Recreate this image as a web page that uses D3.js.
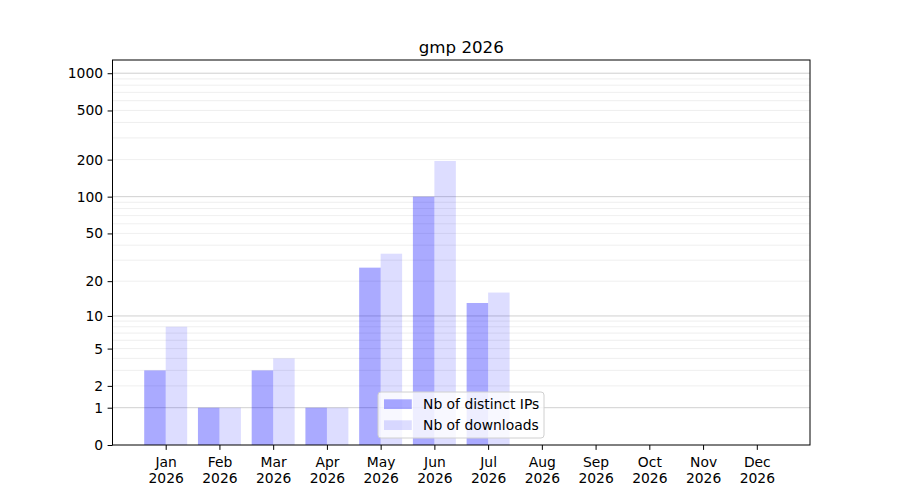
<!DOCTYPE html>
<html>
<head>
<meta charset="utf-8">
<script src="https://cdn.jsdelivr.net/npm/d3@7"></script>
<style>
  body { margin: 0; background: #fff; }
  text { font-family: "DejaVu Sans", sans-serif; }
</style>
</head>
<body>
<div id="chart"></div>
<script>
const months = ["Jan", "Feb", "Mar", "Apr", "May", "Jun", "Jul", "Aug", "Sep", "Oct", "Nov", "Dec"];
const year = "2026";
const distinctIPs = [3, 1, 3, 1, 26, 100, 13, 0, 0, 0, 0, 0];
const downloads = [8, 1, 4, 1, 34, 195, 16, 0, 0, 0, 0, 0];
const yTicks = [0, 1, 2, 5, 10, 20, 50, 100, 200, 500, 1000];
const majorGrid = [1, 10, 100, 1000];
const minorGrid = [2, 3, 4, 5, 6, 7, 8, 9, 20, 30, 40, 50, 60, 70, 80, 90, 200, 300, 400, 500, 600, 700, 800, 900];

const svg = d3.select('#chart')
  .append('svg')
  .attr('width', 900)
  .attr('height', 500);

const margin = { top: 60, right: 90, bottom: 55, left: 112.5 },
      width = +svg.attr('width') - margin.left - margin.right,
      height = +svg.attr('height') - margin.top - margin.bottom;

const fs = "13.89px";

const chart = svg.append('g')
  .attr('transform', `translate(${margin.left},${margin.top})`);

const x = d3.scaleLinear()
  .domain([-0.99, 11.99])
  .range([0, width]);

const y = d3.scaleSymlog()
  .constant(1)
  .domain([0, 1279])
  .range([height, 0]);

const barW = x(0.4) - x(0);

// grid
chart.selectAll(".minor")
  .data(minorGrid)
  .join("line")
  .attr("x1", 0).attr("x2", width)
  .attr("y1", d => y(d)).attr("y2", d => y(d))
  .attr("stroke", "#ebebeb")
  .attr("stroke-width", 0.8);

chart.selectAll(".major")
  .data(majorGrid)
  .join("line")
  .attr("x1", 0).attr("x2", width)
  .attr("y1", d => y(d)).attr("y2", d => y(d))
  .attr("stroke", "#c4c4c4")
  .attr("stroke-width", 0.8);

// bars
chart.selectAll("rect.ips")
  .data(distinctIPs)
  .join("rect")
  .attr("class", "ips")
  .attr("x", (d, i) => x(i) - barW)
  .attr("y", d => y(d))
  .attr("width", barW)
  .attr("height", d => height - y(d))
  .attr("fill", "#0000ff")
  .attr("fill-opacity", 0.333);

chart.selectAll("rect.dl")
  .data(downloads)
  .join("rect")
  .attr("class", "dl")
  .attr("x", (d, i) => x(i))
  .attr("y", d => y(d))
  .attr("width", barW)
  .attr("height", d => height - y(d))
  .attr("fill", "#0000ff")
  .attr("fill-opacity", 0.133);

// axes
const xAxis = chart.append("g")
  .attr("transform", `translate(0,${height})`)
  .call(d3.axisBottom(x)
    .tickValues(d3.range(months.length))
    .tickFormat("")
    .tickSize(4.9));
xAxis.select(".domain").remove();
xAxis.selectAll(".tick text").remove();
xAxis.selectAll(".tick").each(function(i) {
  const t = d3.select(this);
  t.append("text")
    .attr("y", 22.3)
    .attr("text-anchor", "middle")
    .attr("fill", "#000")
    .style("font-size", fs)
    .text(months[i]);
  t.append("text")
    .attr("y", 37.5)
    .attr("text-anchor", "middle")
    .attr("fill", "#000")
    .style("font-size", fs)
    .text(year);
});

const yAxis = chart.append("g")
  .call(d3.axisLeft(y)
    .tickValues(yTicks)
    .tickFormat(d3.format("d"))
    .tickSize(4.9)
    .tickPadding(4.5));
yAxis.select(".domain").remove();
yAxis.selectAll(".tick text").style("font-size", fs).attr("fill", "#000");

// frame
chart.append("rect")
  .attr("width", width)
  .attr("height", height)
  .attr("fill", "none")
  .attr("stroke", "#000")
  .attr("stroke-width", 1);

// title
chart.append("text")
  .attr("x", width / 2)
  .attr("y", -7)
  .attr("text-anchor", "middle")
  .style("font-size", "16.67px")
  .text(`gmp ${year}`);

// legend
const legend = svg.append("g")
  .attr("transform", "translate(378,392)");

legend.append("rect")
  .attr("width", 166)
  .attr("height", 46)
  .attr("rx", 3)
  .attr("fill", "#fff")
  .attr("fill-opacity", 0.8)
  .attr("stroke", "#d0d0d0");

[["Nb of distinct IPs", 0.333], ["Nb of downloads", 0.133]].forEach(([label, op], i) => {
  const g = legend.append("g").attr("transform", `translate(0, ${i * 21})`);
  g.append("rect")
    .attr("x", 6)
    .attr("y", 7.3)
    .attr("width", 27.8)
    .attr("height", 9.7)
    .attr("fill", "#0000ff")
    .attr("fill-opacity", op);
  g.append("text")
    .attr("x", 45)
    .attr("y", 17)
    .style("font-size", fs)
    .text(label);
});
</script>
</body>
</html>
